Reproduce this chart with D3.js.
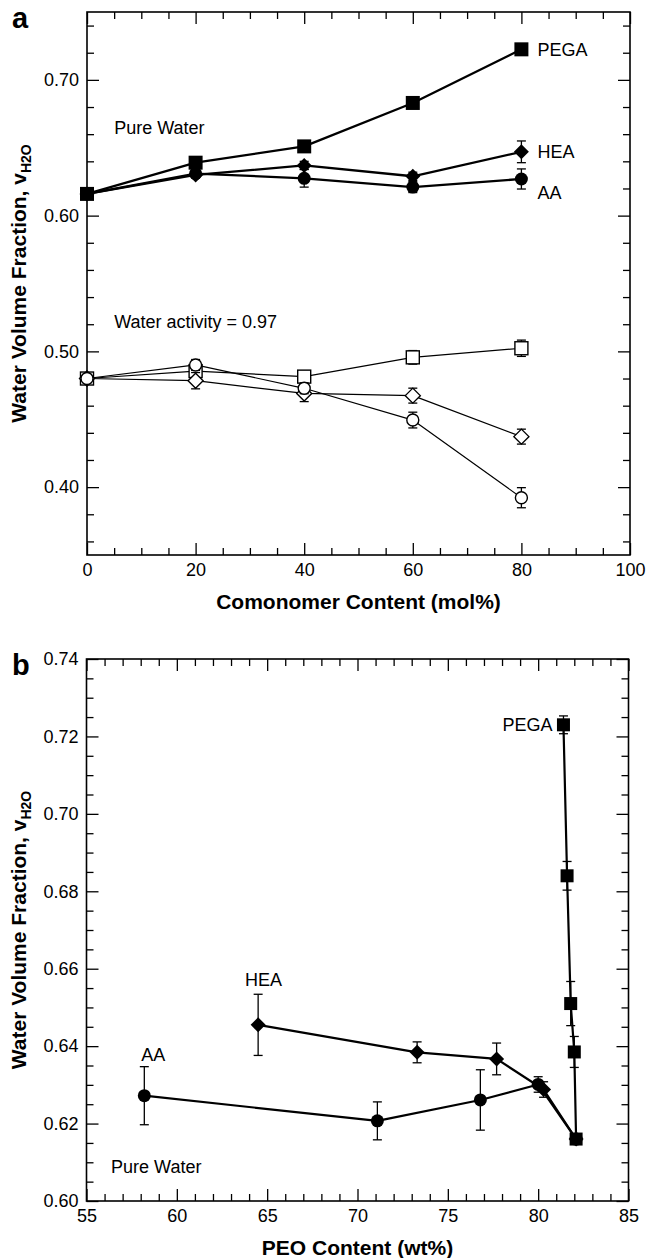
<!DOCTYPE html>
<html>
<head>
<meta charset="utf-8">
<script src="https://cdn.jsdelivr.net/npm/d3@7"></script>
<style>
  html, body { margin: 0; padding: 0; background: #fff; }
  svg { display: block; font-family: "Liberation Sans", Arial, Helvetica, sans-serif; }
</style>
</head>
<body>
<svg id="fig" width="646" height="1258"></svg>
<script>
// ---------- Panel a: water volume fraction vs comonomer content (mol%) ----------
const molContent = [0, 20, 40, 60, 80];

// Pure water (filled symbols, heavy lines)
const pureWaterPEGA    = [0.616, 0.639, 0.651, 0.683, 0.7225];
const pureWaterPEGAErr = [0.002, 0.002, 0.003, 0.002, 0.002];
const pureWaterHEA     = [0.616, 0.630, 0.637, 0.629, 0.647];
const pureWaterHEAErr  = [0.002, 0.002, 0.003, 0.003, 0.008];
const pureWaterAA      = [0.616, 0.631, 0.6275, 0.621, 0.627];
const pureWaterAAErr   = [0.002, 0.002, 0.0065, 0.004, 0.0074];

// Water activity = 0.97 (open symbols, thin lines)
const activityPEGA    = [0.480, 0.4855, 0.4814, 0.4956, 0.5023];
const activityPEGAErr = [0.003, 0.004, 0.004, 0.005, 0.006];
const activityHEA     = [0.480, 0.4784, 0.469, 0.4674, 0.4372];
const activityHEAErr  = [0.003, 0.006, 0.006, 0.0055, 0.0055];
const activityAA      = [0.480, 0.490, 0.4728, 0.4494, 0.3922];
const activityAAErr   = [0.003, 0.004, 0.004, 0.0058, 0.0074];

const molTicks   = [0, 20, 40, 60, 80, 100];
const fracTicksA = [0.40, 0.50, 0.60, 0.70];

// ---------- Panel b: water volume fraction vs PEO content (wt%) ----------
const peoPEGA      = [81.4, 81.6, 81.8, 82.0, 82.1];
const fracPEGA     = [0.723, 0.684, 0.651, 0.6385, 0.616];
const fracPEGAErr  = [0.0023, 0.0037, 0.0057, 0.004, 0.001];
const peoHEA       = [64.5, 73.3, 77.7, 80.3, 82.1];
const fracHEA      = [0.6455, 0.6384, 0.6367, 0.6288, 0.616];
const fracHEAErr   = [0.0079, 0.0027, 0.0041, 0.002, 0.001];
const peoAA        = [58.2, 71.1, 76.8, 80.0, 82.1];
const fracAA       = [0.6272, 0.6207, 0.6261, 0.6301, 0.616];
const fracAAErr    = [0.0075, 0.0049, 0.0078, 0.002, 0.001];

const peoTicks   = [55, 60, 65, 70, 75, 80, 85];
const fracTicksB = [0.60, 0.62, 0.64, 0.66, 0.68, 0.70, 0.72, 0.74];

const FONT = '"Liberation Sans", Arial, Helvetica, sans-serif';
const svg = d3.select("#fig");

const zip = (xs, ys, es) => xs.map((v, i) => ({ x: v, y: ys[i], e: es[i] }));

function marker(sel, shape, size) {
  const h = size / 2;
  if (shape === "circle") {
    return sel.append("circle").attr("r", h);
  }
  if (shape === "square") {
    return sel.append("rect").attr("x", -h).attr("y", -h).attr("width", size).attr("height", size);
  }
  // diamond
  return sel.append("path").attr("d", `M0,${-h}L${h},0L0,${h}L${-h},0Z`);
}

function drawPanel(p) {
  const g = svg.append("g").attr("transform", `translate(${p.left},${p.top})`);
  const x = d3.scaleLinear().domain(p.xDomain).range([0, p.size]);
  const y = d3.scaleLinear().domain(p.yDomain).range([p.size, 0]);
  const MAJ = 12, MIN = 7;

  function addAxis(axisFn, scale, values, len, fmt, transform) {
    const ax = axisFn(scale).tickValues(values)
      .tickSizeInner(-len).tickSizeOuter(0).tickPadding(8)
      .tickFormat(fmt || (() => ""));
    const a = g.append("g").attr("transform", transform).call(ax)
      .attr("font-family", FONT).attr("font-size", 18);
    a.select(".domain").remove();
    a.selectAll(".tick line").attr("stroke", "#000").attr("stroke-width", 1.3);
    a.selectAll(".tick text").attr("fill", "#000");
    return a;
  }

  const xMinor = p.xMinor.filter(v => !p.xMajor.some(m => Math.abs(m - v) < 1e-9));
  const yMinor = p.yMinor.filter(v => !p.yMajor.some(m => Math.abs(m - v) < 1e-9));

  // bottom / top
  addAxis(d3.axisBottom, x, p.xMajor, MAJ, p.xFmt, `translate(0,${p.size})`);
  addAxis(d3.axisBottom, x, xMinor, MIN, null, `translate(0,${p.size})`);
  addAxis(d3.axisTop, x, p.xMajor, MAJ, null, `translate(0,0)`);
  addAxis(d3.axisTop, x, xMinor, MIN, null, `translate(0,0)`);
  // left / right
  addAxis(d3.axisLeft, y, p.yMajorLabels || p.yMajor, MAJ, p.yFmt, `translate(0,0)`);
  addAxis(d3.axisLeft, y, yMinor, MIN, null, `translate(0,0)`);
  addAxis(d3.axisRight, y, p.yMajor, MAJ, null, `translate(${p.size},0)`);
  addAxis(d3.axisRight, y, yMinor, MIN, null, `translate(${p.size},0)`);

  // frame
  g.append("rect").attr("width", p.size).attr("height", p.size)
    .attr("fill", "none").attr("stroke", "#000").attr("stroke-width", 1.6);

  const line = d3.line().x(d => x(d.x)).y(d => y(d.y));

  p.series.forEach(s => {
    const pts = s.points;
    g.append("path").datum(pts).attr("d", line)
      .attr("fill", "none").attr("stroke", "#000").attr("stroke-width", s.lineWidth)
      .attr("stroke-linejoin", "round");

    const eb = g.append("g").attr("stroke", "#000").attr("stroke-width", 1.3);
    pts.forEach(d => {
      const y0 = y(d.y - d.e), y1 = y(d.y + d.e), cx = x(d.x);
      eb.append("line").attr("x1", cx).attr("x2", cx).attr("y1", y0).attr("y2", y1);
      eb.append("line").attr("x1", cx - 4.5).attr("x2", cx + 4.5).attr("y1", y0).attr("y2", y0);
      eb.append("line").attr("x1", cx - 4.5).attr("x2", cx + 4.5).attr("y1", y1).attr("y2", y1);
    });

    pts.forEach(d => {
      const m = g.append("g").attr("transform", `translate(${x(d.x)},${y(d.y)})`);
      const shp = marker(m, s.shape, s.size);
      if (s.filled) shp.attr("fill", "#000").attr("stroke", "none");
      else shp.attr("fill", "#fff").attr("stroke", "#000").attr("stroke-width", 1.4);
    });
  });

  // annotations
  p.labels.forEach(l => {
    g.append("text").attr("x", x(l.x) + (l.dx || 0)).attr("y", y(l.y) + (l.dy || 0))
      .attr("dy", "0.35em").attr("text-anchor", l.anchor || "start")
      .attr("font-size", 18).attr("fill", "#000").text(l.text);
  });

  // x-axis title
  g.append("text").attr("x", p.size / 2).attr("y", p.size + 54)
    .attr("text-anchor", "middle").attr("font-size", 21).attr("font-weight", "bold")
    .text(p.xTitle);

  // y-axis title with subscript
  const yt = svg.append("text")
    .attr("transform", `translate(${p.titleX},${p.top + p.size / 2}) rotate(-90)`)
    .attr("text-anchor", "middle").attr("font-size", 21).attr("font-weight", "bold");
  yt.append("tspan").text("Water Volume Fraction, v");
  yt.append("tspan").attr("font-size", 14).attr("dy", 5).text("H2O");

  // panel letter
  svg.append("text").attr("x", p.letterX).attr("y", p.letterY)
    .attr("font-size", 29).attr("font-weight", "bold").text(p.letter);

  return { x, y };
}

const fmt2 = d3.format(".2f");

drawPanel({
  left: 87, top: 12, size: 543,
  xDomain: [0, 100], yDomain: [0.35, 0.75],
  xMajor: molTicks, xMinor: d3.range(0, 101, 5),
  yMajor: fracTicksA, yMinor: d3.range(36, 75, 2).map(v => v / 100),
  xFmt: d3.format("d"), yFmt: fmt2,
  xTitle: "Comonomer Content (mol%)",
  titleX: 26, letter: "a", letterX: 12, letterY: 28,
  series: [
    { points: zip(molContent, pureWaterPEGA, pureWaterPEGAErr), shape: "square", size: 14, filled: true, lineWidth: 2.3 },
    { points: zip(molContent, pureWaterHEA, pureWaterHEAErr), shape: "diamond", size: 15, filled: true, lineWidth: 2.3 },
    { points: zip(molContent, pureWaterAA, pureWaterAAErr), shape: "circle", size: 13, filled: true, lineWidth: 2.3 },
    { points: zip(molContent, activityPEGA, activityPEGAErr), shape: "square", size: 13, filled: false, lineWidth: 1.2 },
    { points: zip(molContent, activityHEA, activityHEAErr), shape: "diamond", size: 15, filled: false, lineWidth: 1.2 },
    { points: zip(molContent, activityAA, activityAAErr), shape: "circle", size: 12, filled: false, lineWidth: 1.2 }
  ],
  labels: [
    { text: "PEGA", x: 80, y: pureWaterPEGA[4], dx: 16 },
    { text: "HEA", x: 80, y: pureWaterHEA[4], dx: 16 },
    { text: "AA", x: 80, y: pureWaterAA[4], dx: 16, dy: 14 },
    { text: "Pure Water", x: 5, y: 0.6645 },
    { text: "Water activity = 0.97", x: 5, y: 0.5216 }
  ]
});

drawPanel({
  left: 86.5, top: 659, size: 542,
  xDomain: [55, 85], yDomain: [0.60, 0.74],
  xMajor: peoTicks, xMinor: d3.range(55, 86, 1),
  yMajor: fracTicksB, yMinor: d3.range(600, 741, 5).map(v => v / 1000),
  xFmt: d3.format("d"), yFmt: fmt2,
  xTitle: "PEO Content (wt%)",
  titleX: 26, letter: "b", letterX: 12, letterY: 675,
  series: [
    { points: zip(peoPEGA, fracPEGA, fracPEGAErr), shape: "square", size: 13, filled: true, lineWidth: 2.2 },
    { points: zip(peoHEA, fracHEA, fracHEAErr), shape: "diamond", size: 15, filled: true, lineWidth: 2.2 },
    { points: zip(peoAA, fracAA, fracAAErr), shape: "circle", size: 13, filled: true, lineWidth: 2.2 }
  ],
  labels: [
    { text: "PEGA", x: peoPEGA[0], y: fracPEGA[0], dx: -11, anchor: "end" },
    { text: "HEA", x: 64.8, y: 0.6571, anchor: "middle" },
    { text: "AA", x: 58.7, y: 0.6377, anchor: "middle" },
    { text: "Pure Water", x: 56.36, y: 0.6089 }
  ]
});
</script>
</body>
</html>
